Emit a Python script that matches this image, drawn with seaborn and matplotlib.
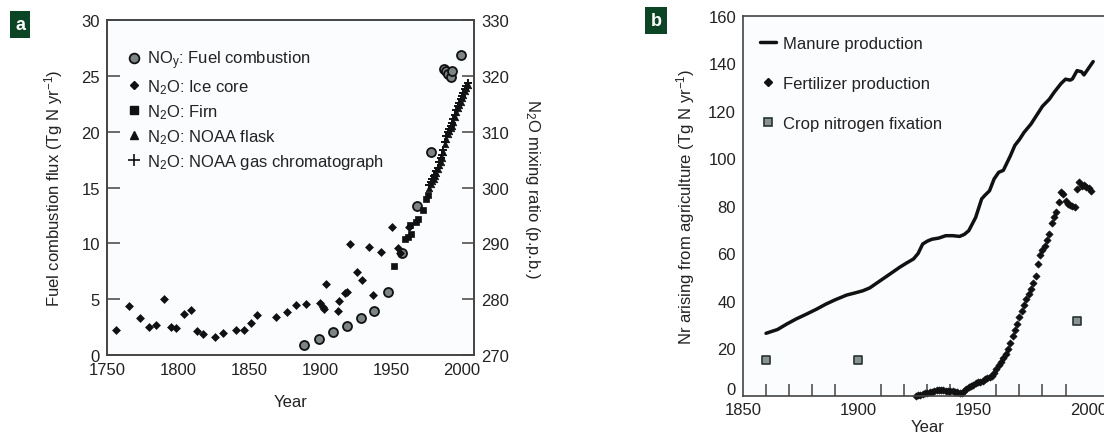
import matplotlib
matplotlib.use('Agg')
import matplotlib.pyplot as plt
import matplotlib.transforms as mtransforms
from matplotlib.ticker import MultipleLocator, FixedLocator
from matplotlib.lines import Line2D
import seaborn as sns

# ---- panel a: fuel combustion NOy (Tg N / yr, left axis)
noy_year = [1889, 1899, 1909, 1919, 1929, 1938, 1948, 1958, 1968, 1978,
            1987.5, 1989, 1990, 1992, 1993, 1999]
noy_flux = [0.9, 1.4, 2.1, 2.6, 3.35, 3.95, 5.6, 9.1, 13.3, 18.2,
            25.6, 25.4, 25.2, 24.9, 25.4, 26.9]

# N2O mixing ratio (p.p.b., right axis)
ice_year = [1756, 1765.5, 1773.5, 1779.6, 1784.3, 1789.9, 1794.9, 1798.4, 1804, 1808.9,
            1813.6, 1817.6, 1825.8, 1831.7, 1841.1, 1846.3, 1851.7, 1855.6, 1869.3, 1876.8,
            1883.4, 1890.4, 1900.3, 1902.1, 1903, 1904.5, 1913.2, 1912.7, 1917.4, 1919,
            1921.4, 1926.3, 1929.9, 1934.5, 1937.6, 1942.9, 1950.9, 1955, 1956.4, 1962.7]
ice_n2o = [274.5, 278.8, 276.6, 275.0, 275.4, 280.0, 275.0, 274.8, 277.4, 278.0,
           274.3, 273.8, 273.2, 274.0, 274.5, 274.5, 275.7, 277.2, 276.8, 277.7,
           279.0, 279.1, 279.3, 278.6, 278.3, 282.7, 279.7, 277.9, 281.1, 281.2,
           289.8, 284.8, 283.5, 289.4, 280.8, 288.5, 292.9, 289.2, 288.3, 293.0]

firn_year = [1952.4, 1959.6, 1962, 1963.2, 1964.4, 1967.9, 1969, 1972.5, 1974.9, 1976.1]
firn_n2o = [286.0, 290.8, 291.1, 293.2, 291.7, 293.9, 294.4, 295.9, 298.0, 298.6]

flask_year = list(range(1977, 2005))
flask_n2o = [300.0, 300.6, 301.2, 301.5, 302.0, 302.6, 303.3, 304.0, 304.6, 305.3,
             306.4, 307.8, 308.6, 309.5, 310.2, 310.6, 311.1, 311.7, 312.6, 313.5,
             314.2, 314.8, 315.3, 316.0, 316.6, 317.2, 317.8, 318.4]

gc_year = list(range(1977, 2005))
gc_n2o = [300.4, 300.9, 301.5, 302.0, 302.3, 303.0, 303.5, 304.5, 305.2, 305.8,
          306.8, 308.2, 309.2, 310.0, 310.5, 311.0, 311.5, 312.2, 313.0, 313.8,
          314.6, 315.2, 315.8, 316.4, 317.0, 317.6, 318.2, 318.8]

# ---- panel b: Nr from agriculture (Tg N / yr)
manure_year = [1860, 1865, 1869, 1873, 1877.6, 1882, 1886, 1890, 1895, 1899,
               1902, 1905, 1908, 1911, 1914, 1918, 1921, 1924, 1926, 1928,
               1930, 1932, 1935, 1938, 1941, 1944, 1946, 1948, 1951, 1953.6,
               1955, 1957, 1959, 1961, 1963, 1966, 1968, 1970, 1972, 1975,
               1978, 1980, 1983, 1985, 1988, 1990, 1992, 1993, 1995, 1997,
               1998, 2000, 2002]
manure_tg = [26.4, 28.0, 30.3, 32.4, 34.5, 36.6, 38.7, 40.5, 42.5, 43.5,
             44.3, 45.5, 47.5, 49.5, 51.5, 54.2, 56.0, 57.7, 60.0, 64.0,
             65.2, 66.0, 66.5, 67.5, 67.5, 67.2, 68.0, 69.6, 75.2, 83.0,
             84.5, 86.4, 91.4, 94.2, 95.0, 101.0, 105.5, 108.0, 111.0, 114.5,
             119.0, 122.0, 125.0, 127.8, 131.5, 133.4, 133.0, 133.5, 137.0, 136.5,
             135.2, 138.0, 140.8]

fert_year = list(range(1925, 2002))
fert_tg = [0.0, 0.3, 0.5, 0.8, 1.2, 1.3, 1.5, 1.8, 2.2, 2.5,
           2.7, 2.6, 2.5, 2.3, 2.2, 2.0, 2.0, 1.8, 1.5, 1.2,
           1.3, 2.0, 3.0, 3.8, 4.3, 4.8, 5.3, 5.7, 6.0, 6.5,
           7.0, 7.5, 8.0, 8.6, 9.8, 11.5, 13.0, 14.3, 15.8, 17.8,
           19.8, 22.5, 25.4, 28.0, 30.3, 33.2, 35.9, 38.5, 41.0, 43.0,
           45.0, 47.5, 50.5, 55.6, 59.5, 61.5, 63.0, 65.5, 68.2, 73.0,
           75.5, 77.3, 81.6, 85.8, 85.0, 82.2, 81.0, 80.5, 80.0, 79.4,
           87.0, 90.0, 88.5, 89.0, 88.0, 87.5, 86.5]

crop_year = [1860, 1900, 1995]
crop_tg = [15.0, 15.0, 31.4]

sns.set_theme(style='white')
plt.rcParams['font.family'] = ['Liberation Sans', 'DejaVu Sans']
plt.rcParams['mathtext.fontset'] = 'custom'
plt.rcParams['mathtext.rm'] = 'Liberation Sans'
plt.rcParams['mathtext.it'] = 'Liberation Sans'
plt.rcParams['mathtext.default'] = 'regular'

FS = 12
INK = '#222222'
SPINE = '#444444'
FACE = '#fbfcfe'

fig = plt.figure(figsize=(11.04, 4.35), dpi=100)
fig.patch.set_facecolor('white')


def style_axis(ax):
    ax.set_facecolor(FACE)
    for s in ax.spines.values():
        s.set_color(SPINE)
        s.set_linewidth(1.2)
    ax.tick_params(direction='in', length=9, width=1.1, color=SPINE,
                   labelsize=FS, labelcolor=INK, pad=5)


# ---------------- panel a ----------------
ax = fig.add_axes([107 / 1104, 1 - 356 / 435, 367 / 1104, 335 / 435])
ax2 = ax.twinx()
style_axis(ax)
style_axis(ax2)
ax2.patch.set_visible(False)

sns.scatterplot(x=noy_year, y=noy_flux, ax=ax, marker='o', s=42,
                color='#7c8484', edgecolor='#111111', linewidth=1.3, zorder=3)

sns.scatterplot(x=ice_year, y=ice_n2o, ax=ax2, marker='D', s=16,
                color='#111111', edgecolor='#111111', linewidth=0.5)
sns.scatterplot(x=firn_year, y=firn_n2o, ax=ax2, marker='s', s=20,
                color='#111111', edgecolor='#111111', linewidth=0.5)
sns.scatterplot(x=flask_year, y=flask_n2o, ax=ax2, marker='^', s=22,
                color='#111111', edgecolor='#111111', linewidth=0.5)
sns.scatterplot(x=gc_year, y=gc_n2o, ax=ax2, marker='+', s=36,
                color='#111111', linewidth=1.4)

ax.set_xlim(1750, 2008.5)
ax.set_ylim(0, 30)
ax2.set_ylim(270, 330)
ax.xaxis.set_major_locator(FixedLocator([1750, 1800, 1850, 1900, 1950, 2000]))
ax.yaxis.set_major_locator(FixedLocator([0, 5, 10, 15, 20, 25, 30]))
ax2.yaxis.set_major_locator(FixedLocator([270, 280, 290, 300, 310, 320, 330]))
ax.tick_params(top=False, right=False)
ax2.tick_params(left=False, right=True)

ax.set_xlabel('Year', fontsize=FS, color=INK, labelpad=12)
ax.set_ylabel(r'Fuel combustion flux (Tg N yr$^{-1}$)', fontsize=FS, color=INK, labelpad=12)
ax2.set_ylabel(r'N$_2$O mixing ratio (p.p.b.)', fontsize=FS, color=INK,
               rotation=270, labelpad=24)

hs = [
    Line2D([], [], ls='', marker='o', ms=7, mfc='#7c8484', mec='#111111', mew=1.3),
    Line2D([], [], ls='', marker='D', ms=4.5, mfc='#111111', mec='#111111'),
    Line2D([], [], ls='', marker='s', ms=5.5, mfc='#111111', mec='#111111'),
    Line2D([], [], ls='', marker='^', ms=6, mfc='#111111', mec='#111111'),
    Line2D([], [], ls='', marker='+', ms=9, mec='#111111', mew=1.2),
]
labels = [r'NO$_y$: Fuel combustion', r'N$_2$O: Ice core', r'N$_2$O: Firn',
          r'N$_2$O: NOAA flask', r'N$_2$O: NOAA gas chromatograph']
ax2.legend(hs, labels, loc='upper left', bbox_to_anchor=(0.05, 0.915),
           frameon=False, fontsize=FS, handlelength=1.0, handletextpad=0.3,
           labelspacing=0.37, borderpad=0, borderaxespad=0, labelcolor=INK)

# ---------------- panel b ----------------
bx = fig.add_axes([743 / 1104, 1 - 397 / 435, 368.6 / 1104, 380 / 435])
style_axis(bx)

sns.lineplot(x=manure_year, y=manure_tg, ax=bx, color='#111111', linewidth=2.5,
             label='Manure production')
sns.scatterplot(x=fert_year, y=fert_tg, ax=bx, marker='D', s=14,
                color='#111111', edgecolor='#111111', linewidth=0.4,
                label='Fertilizer production', clip_on=False)
sns.scatterplot(x=crop_year, y=crop_tg, ax=bx, marker='s', s=30,
                color='#8a9292', edgecolor='#2a3434', linewidth=1.2,
                label='Crop nitrogen fixation')

bx.set_xlim(1850, 2010)
bx.set_ylim(0, 160)
bx.xaxis.set_major_locator(FixedLocator([1850, 1900, 1950, 2000]))
bx.xaxis.set_minor_locator(MultipleLocator(10))
bx.yaxis.set_major_locator(FixedLocator([0, 20, 40, 60, 80, 100, 120, 140, 160]))
bx.tick_params(which='minor', axis='x', direction='in', length=9, width=1.1,
               color=SPINE, bottom=True)
bx.tick_params(axis='x', pad=4)
bx.set_xlabel('Year', fontsize=FS, color=INK, labelpad=2)
bx.set_ylabel(r'Nr arising from agriculture (Tg N yr$^{-1}$)', fontsize=FS,
              color=INK, labelpad=8)

hb = [
    Line2D([], [], color='#111111', lw=2.5),
    Line2D([], [], ls='', marker='D', ms=4.5, mfc='#111111', mec='#111111'),
    Line2D([], [], ls='', marker='s', ms=6, mfc='#8a9292', mec='#2a3434', mew=1.2),
]
bx.legend(hb, ['Manure production', 'Fertilizer production', 'Crop nitrogen fixation'],
          loc='upper left', bbox_to_anchor=(0.045, 0.948), frameon=False,
          fontsize=FS, handlelength=1.0, handletextpad=0.4, labelspacing=1.5,
          borderpad=0, borderaxespad=0, labelcolor=INK)

# nudge the "0" label of panel b up, clear of the year labels
fig.canvas.draw()
for tick in bx.yaxis.get_major_ticks():
    if tick.get_loc() == 0:
        tick.label1.set_transform(tick.label1.get_transform() +
                                  mtransforms.ScaledTranslation(0, 6 / 72, fig.dpi_scale_trans))

# panel badges
for x, y, t in [(20 / 1104, 1 - 25.5 / 435, 'a'), (656 / 1104, 1 - 21.5 / 435, 'b')]:
    fig.text(x, y, t, ha='center', va='center', color='white', fontsize=13,
             fontweight='bold', family=['Liberation Sans', 'DejaVu Sans'],
             bbox=dict(boxstyle='square,pad=0.28', fc='#0b4526', ec='none'))

fig.savefig('out.png', dpi=100)
